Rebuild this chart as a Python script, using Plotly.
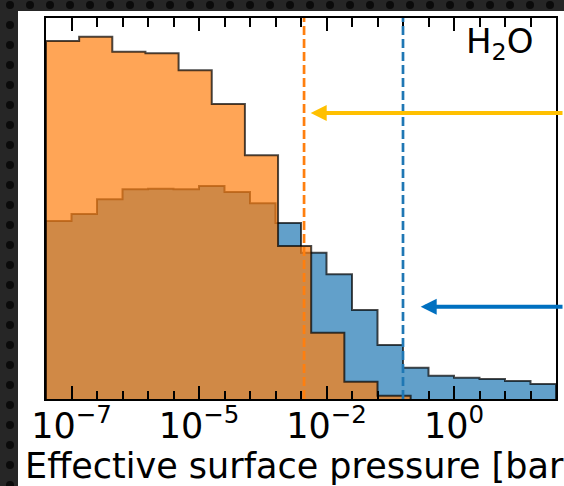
import plotly.graph_objects as go

# ---------------- data (log10 of effective surface pressure, bar) ----------------
blue_edges = [-8.0, -7.5, -7.0, -6.5, -6.0, -5.5, -5.0, -4.5, -4.0, -3.5, -3.0,
              -2.5, -2.0, -1.5, -1.0, -0.5, 0.0, 0.5, 1.0, 1.5, 2.0]
blue_heights = [178, 185, 199.7, 209.7, 210.3, 209.7, 213, 207, 195.7, 176,
                146.3, 124.7, 89, 54, 31.3, 23.3, 21.3, 20, 18, 15]

orange_edges = [-8.0, -7.35, -6.7, -6.05, -5.4, -4.75, -4.1, -3.45, -2.8, -2.15,
                -1.5, -0.85]
orange_heights = [358, 362.3, 347.3, 345.7, 328.7, 295, 243.7, 153, 66.3, 17.3, 3.3]

orange_marker = -2.94   # dashed line (orange)
blue_marker = -1.0      # dashed line (blue)

tick_vals = [-7.5, -5.0, -2.5, 0.0]
tick_text = ["10<sup>−7</sup>", "10<sup>−5</sup>", "10<sup>−2</sup>", "10<sup>0</sup>"]
minor_vals = [-8.0, -7.0, -6.5, -6.0, -5.5, -4.5, -4.0, -3.5, -3.0, -2.0,
              -1.5, -1.0, -0.5, 0.5, 1.0, 1.5, 2.0]

arrow_yellow = (-2.81, 286)
arrow_blue = (-0.653, 92.3)

# ---------------- geometry ----------------
W, H = 564, 486
ML, MR, MT, MB = 46, 8, 18, 87
PW, PH = W - ML - MR, H - MT - MB
FONT = "DejaVu Sans"


def px_x(px):
    return (px - ML) / PW


def px_y(py):
    return (H - MB - py) / PH


def step_polygon(edges, heights):
    xs, ys = [edges[0]], [0]
    for i, h in enumerate(heights):
        xs += [edges[i], edges[i + 1]]
        ys += [h, h]
    xs.append(edges[len(heights)])
    ys.append(0)
    return xs, ys


fig = go.Figure()

bx, by = step_polygon(blue_edges, blue_heights)
fig.add_trace(go.Scatter(x=bx, y=by, mode="lines", fill="toself",
                         fillcolor="rgba(31,119,180,0.7)",
                         line=dict(color="rgba(0,0,0,0.7)", width=2),
                         hoverinfo="skip", showlegend=False))
ox, oy = step_polygon(orange_edges, orange_heights)
fig.add_trace(go.Scatter(x=ox, y=oy, mode="lines", fill="toself",
                         fillcolor="rgba(255,127,14,0.7)",
                         line=dict(color="rgba(0,0,0,0.7)", width=2),
                         hoverinfo="skip", showlegend=False))

shapes = []
# dotted dark background texture
for gx in range(10, W + 20, 20):
    for gy in range(5, H + 20, 20):
        if gy <= 16 or gx <= 22:
            shapes.append(dict(type="circle", xref="paper", yref="paper",
                               x0=px_x(gx - 4), x1=px_x(gx + 4),
                               y0=px_y(gy + 4), y1=px_y(gy - 4),
                               fillcolor="#0b0b0b", line=dict(width=0),
                               layer="below"))
# white panel
shapes.append(dict(type="rect", xref="paper", yref="paper",
                   x0=px_x(18), x1=px_x(W + 5), y0=px_y(H + 5), y1=px_y(11),
                   fillcolor="white", line=dict(width=0), layer="below"))
# dashed marker lines
for xv, col in [(orange_marker, "#ff7f0e"), (blue_marker, "#1f77b4")]:
    shapes.append(dict(type="line", xref="x", yref="paper", x0=xv, x1=xv,
                       y0=0, y1=1, line=dict(color=col, width=2.7, dash="9px,4px"),
                       layer="above"))

annotations = [
    dict(x=px_x(535), y=px_y(19), xref="paper", yref="paper",
         text="H<sub>2</sub>O", showarrow=False, xanchor="right", yanchor="top",
         font=dict(family=FONT, size=34, color="black")),
]
for (ax_, ay_), col in [(arrow_yellow, "#FFC000"), (arrow_blue, "#0070C0")]:
    annotations.append(dict(x=ax_, y=ay_, xref="x", yref="y", text="",
                            showarrow=True, ax=270, ay=0, axref="pixel",
                            ayref="pixel", arrowhead=2, arrowsize=0.8,
                            arrowwidth=4, arrowcolor=col, standoff=0))

fig.update_layout(
    width=W, height=H,
    margin=dict(l=ML, r=MR, t=MT, b=MB, pad=0),
    paper_bgcolor="#262626", plot_bgcolor="white",
    shapes=shapes, annotations=annotations,
    font=dict(family=FONT, color="black"),
)
fig.update_xaxes(
    range=[-8, 2], tickmode="array", tickvals=tick_vals, ticktext=tick_text,
    ticks="inside", ticklen=13, tickwidth=2, tickcolor="black",
    showline=True, linewidth=2, linecolor="black", mirror="ticks",
    showgrid=False, zeroline=False, ticklabelstandoff=-5,
    tickfont=dict(family=FONT, size=35, color="black"),
    minor=dict(tickmode="array", tickvals=minor_vals, ticks="inside",
               ticklen=8.5, tickwidth=2, tickcolor="black", showgrid=False),
    title=dict(text="Effective surface pressure [bar]",
               font=dict(family=FONT, size=35, color="black"), standoff=1),
    automargin=False,
)
fig.update_yaxes(
    range=[0, PH], showticklabels=False, ticks="", showline=True, linewidth=2,
    linecolor="black", mirror=True, showgrid=False, zeroline=False,
    automargin=False,
)

fig.write_html("out.html")
